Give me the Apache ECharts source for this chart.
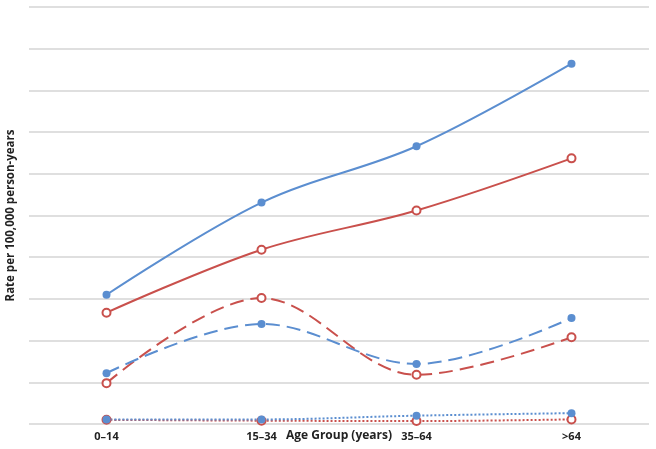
<!DOCTYPE html>
<html><head><meta charset="utf-8">
<script src="https://cdn.jsdelivr.net/npm/echarts@6/dist/echarts.min.js"></script>
<style>html,body{margin:0;padding:0;background:#fff}#c{width:656px;height:449px}</style>
</head><body><div id="c"></div>
<script>
const categories = ['0–14', '15–34', '35–64', '>64'];
const blueSolid  = [3.10, 5.31, 6.66, 8.64];
const redSolid   = [2.67, 4.18, 5.12, 6.37];
const redDashed  = [0.98, 3.02, 1.18, 2.08];
const blueDashed = [1.22, 2.40, 1.44, 2.54];
const redDotted  = [0.10, 0.08, 0.07, 0.11];
const blueDotted = [0.11, 0.11, 0.20, 0.26];
const yTitle = 'Rate per 100,000 person-years';
const xTitle = 'Age Group (years)';

const BLUE = '#5b8ed0', RED = '#c9504c';
function mk(name, data, color, type, filled) {
  return {
    name, type: 'line', data, smooth: 0.35,
    symbol: 'circle', symbolSize: 8,
    lineStyle: { color, width: 2, type },
    itemStyle: filled ? { color } : { color: '#fff', borderColor: color, borderWidth: 2 },
    emphasis: { disabled: true }
  };
}
const chart = echarts.init(document.getElementById('c'));
chart.setOption({
  animation: false,
  grid: { left: 29, right: 7, top: 7, bottom: 25, containLabel: false, outerBoundsMode: 'none' },
  xAxis: {
    type: 'category', data: categories, boundaryGap: true,
    axisLine: { show: false }, axisTick: { show: false },
    axisLabel: { fontFamily: 'Open Sans', fontWeight: 'bold', fontSize: 11, color: '#222', margin: 7 },
    name: xTitle, nameLocation: 'middle', nameGap: 6, nameMoveOverlap: false,
    nameTextStyle: { fontFamily: 'Liberation Sans Narrow, Open Sans', fontWeight: 'bold', fontSize: 12, color: '#222' }
  },
  yAxis: {
    type: 'value', min: 0, max: 10, interval: 1,
    axisLabel: { show: false }, axisLine: { show: false }, axisTick: { show: false },
    splitLine: { lineStyle: { color: '#d4d4d4', width: 1.5 } },
    name: yTitle, nameLocation: 'middle', nameGap: 12, nameRotate: 90, nameMoveOverlap: false,
    nameTextStyle: { fontFamily: 'Open Sans', fontWeight: 'bold', fontSize: 11.5, color: '#222' }
  },
  series: [
    mk('rs', redSolid, RED, 'solid', false),
    mk('bs', blueSolid, BLUE, 'solid', true),
    mk('rd', redDashed, RED, [14, 7], false),
    mk('bd', blueDashed, BLUE, [14, 7], true),
    mk('rdot', redDotted, RED, [2, 2], false),
    mk('bdot', blueDotted, BLUE, [2, 2], true)
  ]
});
</script></body></html>
